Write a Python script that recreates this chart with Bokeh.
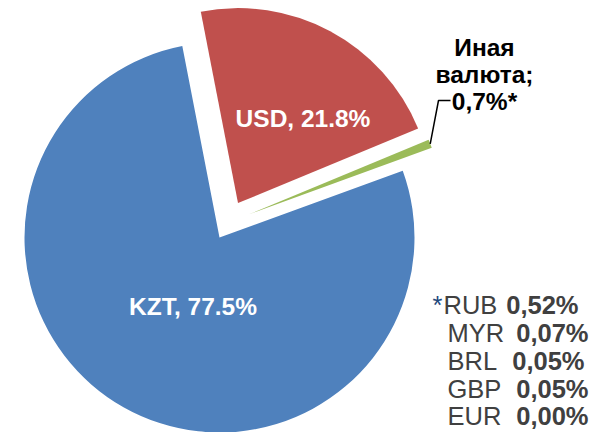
import math
from bokeh.plotting import figure
from bokeh.models import ColumnDataSource, Range1d
from bokeh.core.properties import value
from bokeh.embed import file_html
from bokeh.resources import INLINE

# ---------------- data ----------------
categories = ["KZT", "USD", "Иная валюта"]
shares = [77.5, 21.8, 0.7]
slice_labels = ["KZT, 77.5%", "USD, 21.8%"]
other_label_lines = ["Иная", "валюта;", "0,7%*"]
other_codes = ["RUB", "MYR", "BRL", "GBP", "EUR"]
other_values = ["0,52%", "0,07%", "0,05%", "0,05%", "0,00%"]

# ---------------- style / layout ----------------
W, H = 600, 432
colors = ["#4F81BD", "#C0504D", "#9BBB59"]
CX, CY = 219, H - 237          # pie centre (data units = pixels, y up)
R = 195
START_DEG = 20.0               # first slice starts here, runs clockwise
explode = [(0, 0), (18.5, 34.4), (29, 23)]   # (dx, dy up) offsets per slice
FONT = value("Liberation Sans")
FS = "24.5px"
FS2 = "25.5px"

p = figure(width=W, height=H, output_backend="svg", toolbar_location=None,
           x_range=Range1d(0, W), y_range=Range1d(0, H), min_border=0)
p.axis.visible = False
p.grid.visible = False
p.outline_line_color = None
p.background_fill_color = "white"
p.border_fill_color = "white"

xs, ys, sa, ea, mids = [], [], [], [], []
cur = START_DEG
for s, (dx, dy) in zip(shares, explode):
    a0 = cur
    a1 = cur - s * 3.6
    xs.append(CX + dx)
    ys.append(CY + dy)
    sa.append(math.radians(a1))
    ea.append(math.radians(a0))
    mids.append((a0 + a1) / 2)
    cur = a1

src = ColumnDataSource(dict(x=xs, y=ys, s=sa, e=ea, c=colors, cat=categories))
p.wedge(x="x", y="y", radius=R, start_angle="s", end_angle="e",
        direction="anticlock", fill_color="c", line_color=None, source=src)

# slice labels inside
p.text(x=[192.5, 302.5], y=[H - 306, H - 118], text=slice_labels,
       text_color="white", text_font=FONT, text_font_size=FS,
       text_font_style="bold", text_align="center", text_baseline="alphabetic")

# leader line from small slice
gm = math.radians(mids[2])
ox = xs[2] + R * math.cos(gm)
oy = ys[2] + R * math.sin(gm)
p.line(x=[ox, 438, 450], y=[oy, H - 100, H - 100], line_color="black", line_width=1.5)

p.text(x=[484, 484, 484], y=[H - 47, H - 74, H - 101], text=other_label_lines,
       text_color="black", text_font=FONT, text_font_size=FS,
       text_font_style="bold", text_align="center", text_baseline="alphabetic")

# breakdown of other currencies
base = [304, 332, 360, 388, 415]
name_x = [443, 447, 447, 447, 447]
val_x = [578, 588, 584, 588, 588]
p.text(x=[432], y=[H - base[0]], text=["*"], text_color="#1F497D",
       text_font=FONT, text_font_size=FS2, text_align="left", text_baseline="alphabetic")
p.text(x=name_x, y=[H - b for b in base], text=other_codes, text_color="#404040",
       text_font=FONT, text_font_size=FS2, text_align="left", text_baseline="alphabetic")
p.text(x=val_x, y=[H - b for b in base], text=other_values, text_color="#404040",
       text_font=FONT, text_font_size=FS2, text_font_style="bold",
       text_align="right", text_baseline="alphabetic")

open("out.html", "w").write(file_html(p, INLINE))
